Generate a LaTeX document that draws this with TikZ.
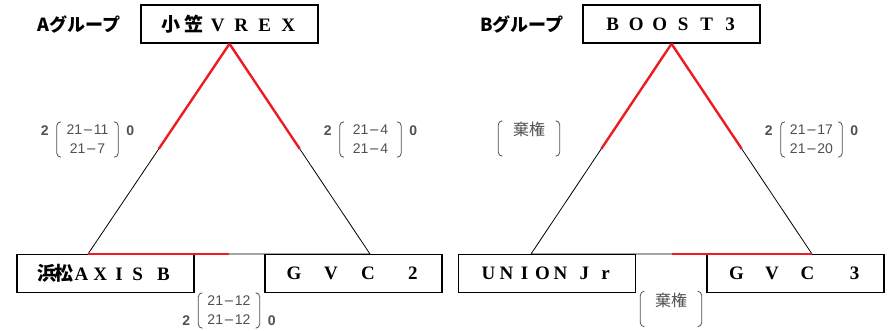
\documentclass[tikz,border=0pt]{standalone}
\usepackage{fontspec}
\setmainfont{Liberation Serif}
\setsansfont{Liberation Sans}
\newfontfamily\cjk{Noto Sans CJK JP}
\newfontfamily\dvs{DejaVu Sans}
\usetikzlibrary{calc}
\definecolor{winred}{RGB}{237,28,36}
\definecolor{scoregray}{RGB}{80,80,80}
\newcommand{\ltr}[2][23.5pt]{\makebox[#1]{#2}}
\newcommand{\pts}[2]{#1\kern0.5pt{\dvs\fontsize{13}{19}\selectfont −}\kern0.5pt#2}

\begin{document}
\begin{tikzpicture}[x=1pt,y=-1pt,
  team/.style={draw, line width=1.6pt, minimum width=177pt, minimum height=38pt, inner sep=0pt,
               font=\fontsize{19}{19}\selectfont\bfseries},
  grp/.style={font=\cjk\fontsize{18}{18}\selectfont\bfseries},
  edge/.style={line width=0.8pt},
  win/.style={line width=2.4pt, draw=winred},
  score/.style={minimum width=61pt, minimum height=35pt, inner sep=0pt, align=center,
                text=scoregray, font=\sffamily\fontsize{14}{19}\selectfont},
  sets/.style={inner sep=0pt, text=scoregray, font=\sffamily\bfseries\fontsize{14}{14}\selectfont},
  brk/.style={draw=scoregray, line width=0.8pt, rounded corners=4pt}
]
\useasboundingbox (0,0) rectangle (890,331);

% group A
\node[grp] (ga) at (79,25) {Aグループ};
\node[team] (ta) at (229.5,24) {\ltr{\cjk 小}\ltr{\cjk 笠}\ltr{V}\ltr{R}\ltr{E}\ltr{X}};
\node[team] (aa) at (105.5,273.5) {\ltr[17pt]{\cjk 浜}\ltr[17pt]{\cjk 松}\ltr[18.7pt]{A}\ltr[18.7pt]{X}\ltr[18.7pt]{I}\ltr[18.7pt]{S}\hspace{7pt}\ltr[18.7pt]{B}};
\node[team] (ac) at (353.5,273.5) {\ltr[37pt]{G}\ltr[37pt]{V}\ltr[37pt]{C}\hspace{8pt}\ltr[37pt]{2}};
\coordinate (aL) at (88,254);
\coordinate (aR) at (370,254);

\draw[edge] (ta.south) -- (aL) -- (aR) -- cycle;
\draw[win] (ta.south) -- ($(ta.south)!.5!(aL)$);
\draw[win] (ta.south) -- ($(ta.south)!.5!(aR)$);
\draw[win] (aL) -- ($(aL)!.5!(aR)$);

\node[score] (sa1) at (87.5,139.5) {\pts{21}{11}\\\pts{21}{7}};
\node[score] (sa2) at (370.5,139.5) {\pts{21}{4}\\\pts{21}{4}};
\node[score] (sa3) at (229,310.5) {\pts{21}{12}\\\pts{21}{12}};
\node[sets, anchor=east] (sa1l) at ([xshift=-8pt,yshift=-9pt]sa1.north west) {2};
\node[sets, anchor=west] (sa1r) at ([xshift=8pt,yshift=-9pt]sa1.north east) {0};
\node[sets, anchor=east] (sa2l) at ([xshift=-8pt,yshift=-9pt]sa2.north west) {2};
\node[sets, anchor=west] (sa2r) at ([xshift=8pt,yshift=-9pt]sa2.north east) {0};
\node[sets, anchor=east] (sa3l) at ([xshift=-8pt,yshift=8pt]sa3.south west) {2};
\node[sets, anchor=west] (sa3r) at ([xshift=8pt,yshift=8pt]sa3.south east) {0};

% group B
\node[grp] (gb) at (522,25) {Bグループ};
\node[team] (tb) at (671.5,24) {\ltr{B}\ltr{O}\ltr{O}\ltr{S}\ltr{T}\ltr{3}};
\node[team] (bu) at (547,273.5) {\ltr[18pt]{U}\ltr[18pt]{N}\ltr[18pt]{I}\ltr[18pt]{O}\ltr[18pt]{N}\hspace{6pt}\ltr[18pt]{J}\hspace{3pt}\ltr[18pt]{r}};
\node[team] (bc) at (795.5,273.5) {\ltr[35.5pt]{G}\ltr[35.5pt]{V}\ltr[35.5pt]{C}\hspace{11.5pt}\ltr[35.5pt]{3}};
\coordinate (bL) at (531,254);
\coordinate (bR) at (812,254);

\draw[edge] (tb.south) -- (bL) -- (bR) -- cycle;
\draw[win] (tb.south) -- ($(tb.south)!.5!(bL)$);
\draw[win] (tb.south) -- ($(tb.south)!.5!(bR)$);
\draw[win] ($(bL)!.5!(bR)$) -- (bR);

\node[score] (sb1) at (529,138.5) {{\cjk\fontsize{16}{19}\selectfont 棄権}\\~};
\node[score] (sb2) at (811.5,139.5) {\pts{21}{17}\\\pts{21}{20}};
\node[score] (sb3) at (671,309) {{\cjk\fontsize{16}{19}\selectfont 棄権}\\~};
\node[sets, anchor=east] (sb2l) at ([xshift=-8pt,yshift=-9pt]sb2.north west) {2};
\node[sets, anchor=west] (sb2r) at ([xshift=8pt,yshift=-9pt]sb2.north east) {0};

% brackets
\foreach \s in {sa1,sa2,sa3,sb1,sb2,sb3}{
  \draw[brk] ([xshift=4pt]\s.north west) -- (\s.north west) -- (\s.south west) -- ([xshift=4pt]\s.south west);
  \draw[brk] ([xshift=-4pt]\s.north east) -- (\s.north east) -- (\s.south east) -- ([xshift=-4pt]\s.south east);
}
\end{tikzpicture}
\end{document}
